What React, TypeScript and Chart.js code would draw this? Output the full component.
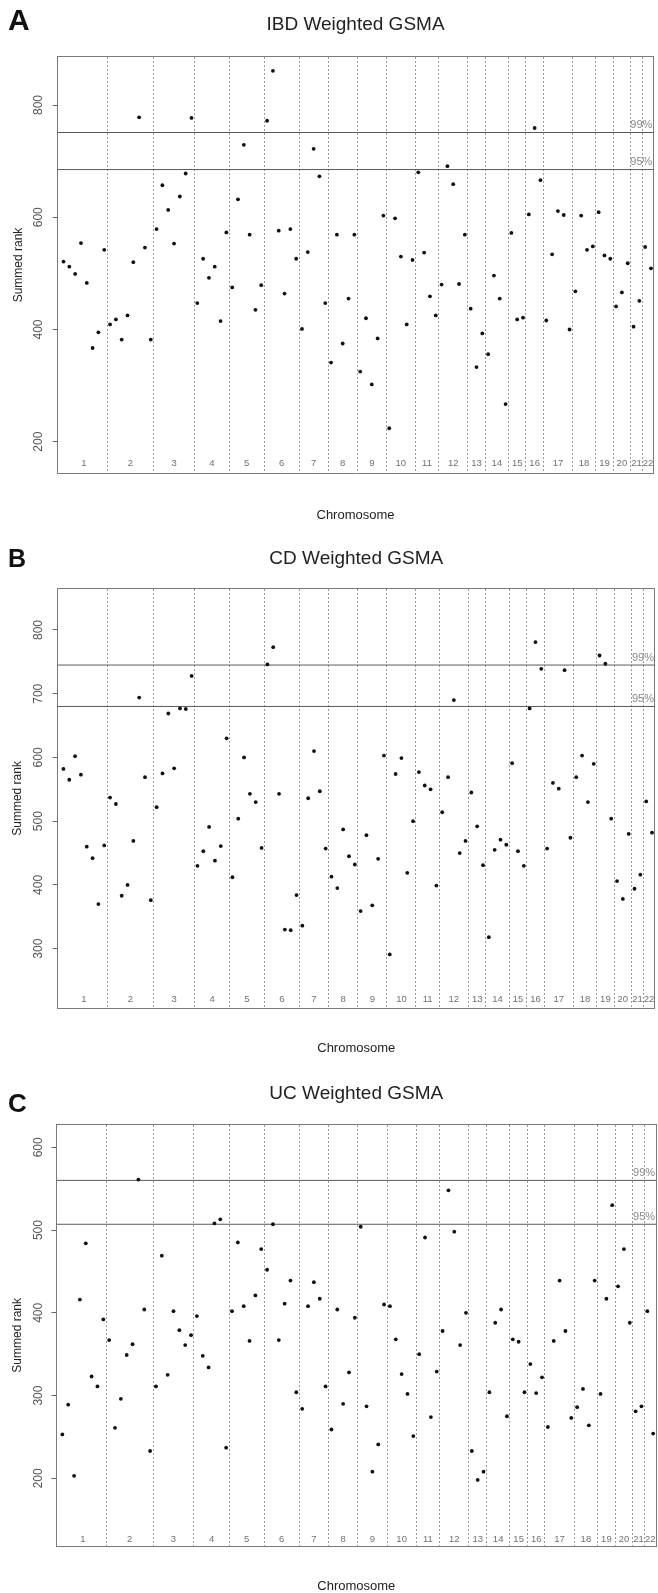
import React, { useEffect, useRef } from 'react';
import { Chart, registerables } from 'chart.js';

Chart.register(...registerables);

// ---------------- data ----------------
const CHROMOSOMES = ['1', '2', '3', '4', '5', '6', '7', '8', '9', '10', '11', '12', '13', '14', '15', '16', '17', '18', '19', '20', '21', '22'];
const BINS_PER_CHROMOSOME = [8, 8, 7, 6, 6, 6, 5, 5, 5, 5, 4, 5, 3, 4, 3, 3, 5, 4, 3, 3, 2, 2];

const IBD_RANK = [
  521, 512, 499, 554, 483, 367, 395, 542,
  409, 418, 382, 425, 520, 778, 546, 382,
  579, 657, 613, 553, 637, 678, 777,
  447, 526, 492, 512, 415, 573,
  475, 632, 729, 569, 435, 479,
  772, 861, 576, 464, 579, 526,
  401, 538, 722, 673, 447,
  341, 569, 375, 455, 569,
  325, 420, 302, 384, 603,
  224, 598, 530, 409, 524,
  680, 537, 459, 425,
  480, 691, 659, 481, 569,
  437, 333, 393,
  356, 496, 455, 267,
  572, 418, 421,
  605, 759, 666,
  416, 534, 611, 604, 400,
  468, 603, 542, 548,
  609, 532, 526,
  441, 466, 518,
  405, 451,
  547, 509,
];

const CD_RANK = [
  582, 565, 602, 573, 460, 442, 370, 462,
  537, 527, 383, 400, 469, 694, 569, 376,
  522, 575, 669, 583, 677, 676, 728,
  430, 453, 491, 438, 461, 630,
  412, 504, 600, 543, 530, 458,
  746, 773, 543, 330, 329, 384,
  336, 536, 610, 547, 457,
  413, 395, 487, 445, 432,
  359, 478, 368, 441, 603,
  291, 574, 599, 419, 500,
  577, 556, 550, 399,
  514, 569, 690, 450, 469,
  545, 492, 431,
  318, 455, 471, 463,
  591, 453, 430,
  677, 781, 739,
  457, 560, 551, 737, 474,
  569, 603, 530, 590,
  760, 747, 504,
  406, 378, 480,
  394, 416,
  531, 482,
];

const UC_RANK = [
  253, 289, 203, 416, 484, 323, 311, 392,
  367, 261, 296, 349, 362, 561, 404, 233,
  311, 469, 325, 402, 379, 361, 373,
  396, 348, 334, 508, 513, 237,
  402, 485, 408, 366, 421, 477,
  452, 507, 367, 411, 439, 304,
  284, 408, 437, 417, 311,
  259, 404, 290, 328, 394,
  504, 287, 208, 241, 410,
  408, 368, 326, 302, 251,
  350, 491, 274, 329,
  378, 548, 498, 361, 400,
  233, 198, 208,
  304, 388, 404, 275,
  368, 365, 304,
  338, 303, 322,
  262, 366, 439, 378, 273,
  286, 308, 264, 439,
  302, 417, 530,
  432, 477, 388,
  281, 287,
  402, 254,
];

const IBD_Y_TICKS = [200, 400, 600, 800];
const CD_Y_TICKS = [300, 400, 500, 600, 700, 800];
const UC_Y_TICKS = [200, 300, 400, 500, 600];

const IBD_Y_RANGE = [143.7, 886.1];
const CD_Y_RANGE = [206.4, 865.1];
const UC_Y_RANGE = [118.2, 627.3];

const IBD_X_MAX = 102.4;
const CD_X_MAX = 102.5;
const UC_X_MAX = 102.5;

const THRESHOLD_LABELS = ['99%', '95%'];
const IBD_THRESHOLDS = [751, 685];
const CD_THRESHOLDS = [745, 680];
const UC_THRESHOLDS = [560, 507];

const PANEL_LETTERS = ['A', 'B', 'C'];
const PANEL_TITLES = ['IBD Weighted GSMA', 'CD Weighted GSMA', 'UC Weighted GSMA'];
const X_TITLE = 'Chromosome';
const Y_TITLE = 'Summed rank';

// ---------------- derived tables for the library ----------------
const BOUNDARIES: number[] = [];
const CENTERS: number[] = [];
{
  let cum = 0;
  BINS_PER_CHROMOSOME.forEach((n, i) => {
    CENTERS.push(cum + (n + 1) / 2);
    cum += n;
    if (i < BINS_PER_CHROMOSOME.length - 1) BOUNDARIES.push(cum + 0.5);
  });
}

// ---------------- layout / style ----------------
const FONT = '"Liberation Sans", Arial, Helvetica, sans-serif';
const W = 658;
const FRAME = '#7a7a7a';

const LAYOUTS = [
  { top: 0, height: 531, left: 57.7, padRight: 4.2, titleY: 25, plotTop: 56.7, plotBottom: 473.3, chromY: 463, xTitleY: 515, yTitleX: 18.5, letterSize: 30, letterY: 21.5 },
  { top: 531, height: 531, left: 57.6, padRight: 0, titleY: 27.3, plotTop: 57.5, plotBottom: 477.3, chromY: 468, xTitleY: 517, yTitleX: 18, letterSize: 25, letterY: 29 },
  { top: 1062, height: 545, left: 56.5, padRight: 0, titleY: 31.3, plotTop: 62.7, plotBottom: 484, chromY: 477.3, xTitleY: 524.7, yTitleX: 17.5, letterSize: 26, letterY: 43 },
];

const SERIES = [IBD_RANK, CD_RANK, UC_RANK];
const Y_TICK_SETS = [IBD_Y_TICKS, CD_Y_TICKS, UC_Y_TICKS];
const Y_RANGES = [IBD_Y_RANGE, CD_Y_RANGE, UC_Y_RANGE];
const X_MAXES = [IBD_X_MAX, CD_X_MAX, UC_X_MAX];
const THRESHOLDS = [IBD_THRESHOLDS, CD_THRESHOLDS, UC_THRESHOLDS];

function makeConfig(idx: number): any {
  const L = LAYOUTS[idx];
  const values = SERIES[idx];
  const xMax = X_MAXES[idx];
  const [yMin, yMax] = Y_RANGES[idx];
  const yTicks = Y_TICK_SETS[idx];
  const thresholds = THRESHOLDS[idx];

  const titleSize = 19;
  const titleLH = titleSize * 1.2;
  const titlePadTop = L.titleY - titleLH / 2;
  const titlePadBottom = L.plotTop - titleLH - titlePadTop;

  // chromosome labels are mirrored into the plot: centre = bottom - padding - lh/2
  const chromSize = 9.5;
  const chromLH = chromSize * 1.2;
  const chromPad = (L.plotBottom - L.chromY) - chromLH / 2;

  const xTitleSize = 13;
  const xTitleLH = xTitleSize * 1.2;
  const xAxisHeight = L.height - L.plotBottom;
  const xTitlePadBottom = L.height - L.xTitleY - xTitleLH / 2;

  const yTitleSize = 12;
  const yTitleLH = yTitleSize * 1.2;
  const yTickSize = 12;
  const yTickWidest = 3 * 0.556 * yTickSize;
  const yTickPad = L.left - 5 - yTickWidest / 2 - 39;

  const points = values.map((v, i) => ({ x: i + 1, y: v }));

  const labelsPlugin = {
    id: 'panelText' + idx,
    afterDatasetsDraw(chart: any) {
      const { ctx, chartArea, scales } = chart;
      ctx.save();
      ctx.font = `11px ${FONT}`;
      ctx.fillStyle = '#8a8a8a';
      ctx.textAlign = 'right';
      ctx.textBaseline = 'middle';
      const xr = Math.min(chartArea.right, 657) - 1;
      thresholds.forEach((v, i) => {
        ctx.fillText(THRESHOLD_LABELS[i], xr, scales.y.getPixelForValue(v) - 7.5);
      });
      ctx.font = `bold ${L.letterSize}px ${FONT}`;
      ctx.fillStyle = '#111';
      ctx.textAlign = 'left';
      ctx.fillText(PANEL_LETTERS[idx], 8, L.letterY);
      ctx.restore();
    },
  };

  return {
    type: 'scatter',
    data: {
      datasets: [
        {
          label: PANEL_TITLES[idx],
          data: points,
          pointRadius: 1.9,
          pointHoverRadius: 1.9,
          pointBackgroundColor: '#111',
          pointBorderColor: '#111',
          pointBorderWidth: 0,
          showLine: false,
        },
        ...thresholds.map((t, i) => ({
          label: THRESHOLD_LABELS[i],
          data: [{ x: 0, y: t }, { x: xMax, y: t }],
          showLine: true,
          borderColor: '#5a5a5a',
          borderWidth: 1,
          pointRadius: 0,
          pointHoverRadius: 0,
        })),
      ],
    },
    options: {
      responsive: false,
      animation: false,
      devicePixelRatio: 1,
      events: [],
      layout: { padding: { left: 0, right: L.padRight, top: 0, bottom: 0 } },
      plugins: {
        legend: { display: false },
        tooltip: { enabled: false },
        title: {
          display: true,
          text: PANEL_TITLES[idx],
          fullSize: false,
          color: '#222',
          font: { family: FONT, size: titleSize, weight: 'normal', lineHeight: 1.2 },
          padding: { top: titlePadTop, bottom: titlePadBottom },
        },
      },
      scales: {
        x: {
          type: 'linear',
          position: 'bottom',
          min: 0,
          max: xMax,
          afterBuildTicks: (scale: any) => {
            scale.ticks = CENTERS.map((c) => ({ value: c }));
          },
          afterFit: (scale: any) => {
            scale.height = xAxisHeight;
          },
          grid: { display: false, drawTicks: false, drawOnChartArea: false },
          border: { display: true, color: FRAME, width: 1 },
          ticks: {
            autoSkip: false,
            maxRotation: 0,
            minRotation: 0,
            mirror: true,
            padding: chromPad,
            color: '#707070',
            font: { family: FONT, size: chromSize, lineHeight: 1.2 },
            callback: (_v: any, i: number) => CHROMOSOMES[i],
          },
          title: {
            display: true,
            text: X_TITLE,
            color: '#222',
            font: { family: FONT, size: xTitleSize, lineHeight: 1.2 },
            padding: { top: 0, bottom: xTitlePadBottom },
          },
        },
        xg: {
          type: 'linear',
          position: 'top',
          min: 0,
          max: xMax,
          afterBuildTicks: (scale: any) => {
            scale.ticks = BOUNDARIES.map((b) => ({ value: b }));
          },
          afterFit: (scale: any) => {
            scale.height = 0;
          },
          grid: { display: true, drawOnChartArea: true, drawTicks: false, color: '#9a9a9a', lineWidth: 1 },
          border: { display: true, color: FRAME, width: 1, dash: [2, 2] },
          ticks: { display: false },
        },
        y: {
          type: 'linear',
          position: 'left',
          min: yMin,
          max: yMax,
          afterBuildTicks: (scale: any) => {
            scale.ticks = yTicks.map((v) => ({ value: v }));
          },
          afterFit: (scale: any) => {
            scale.width = L.left;
          },
          grid: { display: true, drawOnChartArea: false, drawTicks: true, tickLength: 5, color: '#666', lineWidth: 1 },
          border: { display: true, color: FRAME, width: 1 },
          ticks: {
            minRotation: 90,
            maxRotation: 90,
            crossAlign: 'center',
            padding: yTickPad,
            color: '#555',
            font: { family: FONT, size: yTickSize, lineHeight: 1.2 },
            callback: (v: any) => String(v),
          },
          title: {
            display: true,
            text: Y_TITLE,
            color: '#222',
            font: { family: FONT, size: yTitleSize, lineHeight: 1.2 },
            padding: { top: L.yTitleX - yTitleLH / 2, bottom: 0 },
          },
        },
        yr: {
          type: 'linear',
          position: 'right',
          min: yMin,
          max: yMax,
          afterBuildTicks: (scale: any) => {
            scale.ticks = yTicks.map((v) => ({ value: v }));
          },
          afterFit: (scale: any) => {
            scale.width = 0;
          },
          grid: { display: false, drawTicks: false, drawOnChartArea: false },
          border: { display: true, color: FRAME, width: 1 },
          ticks: { display: false },
        },
      },
    },
    plugins: [labelsPlugin],
  };
}

function Panel({ idx }: { idx: number }) {
  const ref = useRef<HTMLCanvasElement | null>(null);
  const L = LAYOUTS[idx];
  useEffect(() => {
    if (!ref.current) return;
    const chart = new Chart(ref.current, makeConfig(idx));
    return () => chart.destroy();
  }, [idx]);
  return (
    <canvas
      ref={ref}
      width={W}
      height={L.height}
      style={{ position: 'absolute', left: 0, top: L.top, width: W, height: L.height, display: 'block' }}
    />
  );
}

export default function App() {
  Chart.defaults.font.family = FONT;
  return (
    <div
      style={{
        position: 'absolute',
        left: 0,
        top: 0,
        width: W,
        height: 1593,
        overflow: 'hidden',
        background: '#fff',
      }}
    >
      <Panel idx={0} />
      <Panel idx={1} />
      <Panel idx={2} />
    </div>
  );
}
